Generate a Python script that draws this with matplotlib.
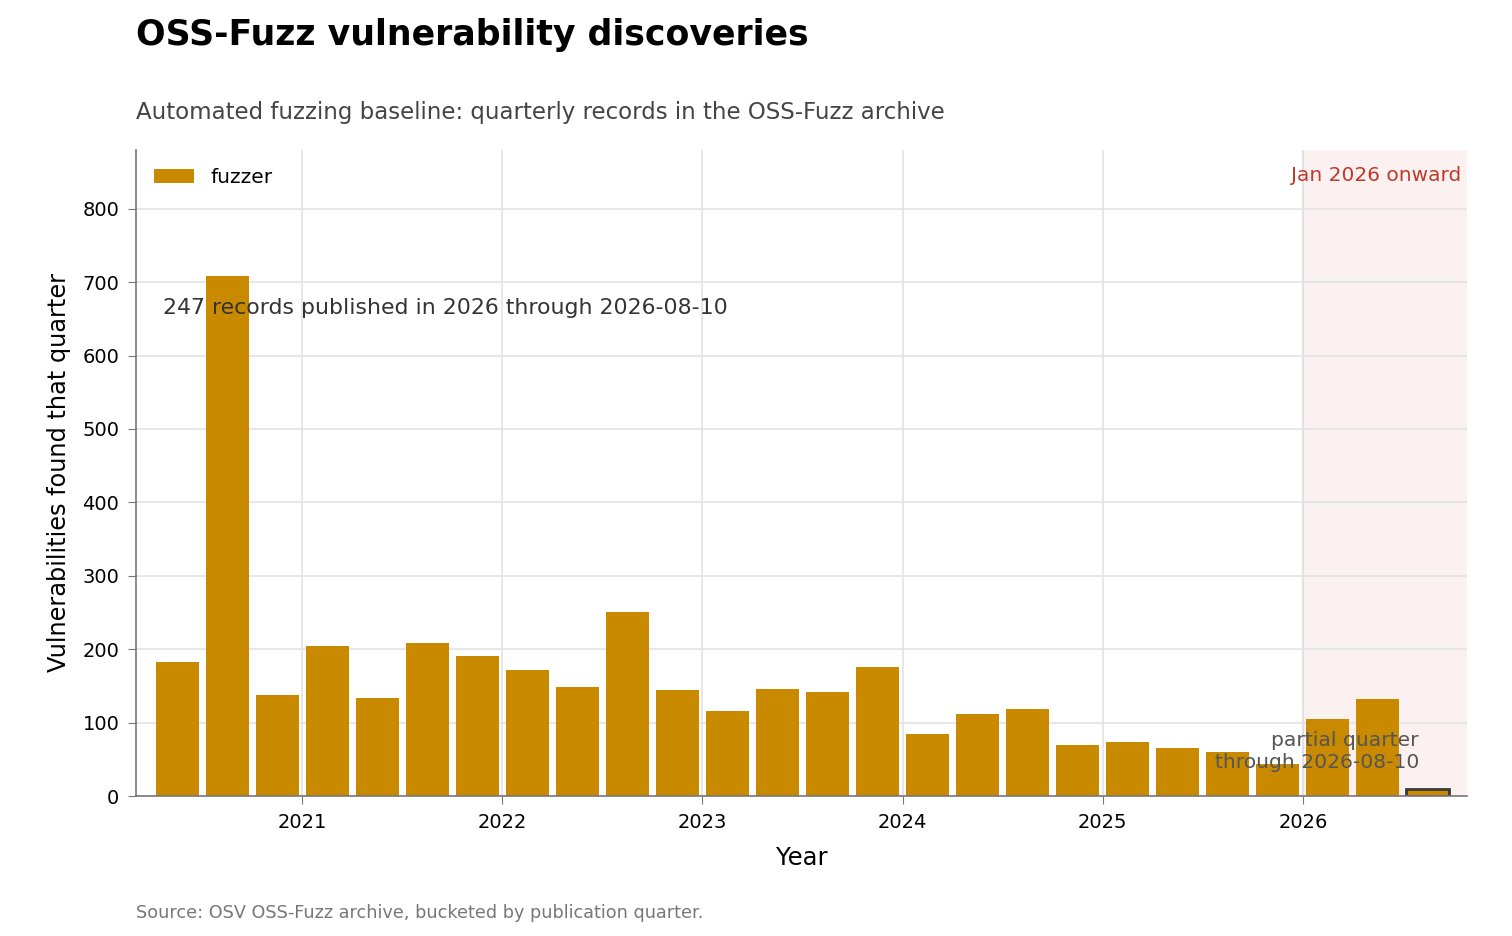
import numpy as np
import matplotlib.pyplot as plt

plt.rcParams["font.family"] = ["DejaVu Sans"]

quarters = ["2020Q2", "2020Q3", "2020Q4",
            "2021Q1", "2021Q2", "2021Q3", "2021Q4",
            "2022Q1", "2022Q2", "2022Q3", "2022Q4",
            "2023Q1", "2023Q2", "2023Q3", "2023Q4",
            "2024Q1", "2024Q2", "2024Q3", "2024Q4",
            "2025Q1", "2025Q2", "2025Q3", "2025Q4",
            "2026Q1", "2026Q2", "2026Q3"]
counts = [183, 709, 138, 204, 133, 208, 191, 172,
          149, 250, 145, 116, 146, 141, 176, 85,
          112, 119, 69, 74, 66, 60, 44,
          105, 132, 10]
years = [2021, 2022, 2023, 2024, 2025, 2026]

# quarter midpoints as decimal years
x = np.array([int(q[:4]) + (int(q[-1]) - 1) / 4 + 0.125 for q in quarters])
counts = np.array(counts)

bar_color = "#c98a00"

fig = plt.figure(figsize=(15.12, 9.36), dpi=100)
ax = fig.add_axes([136 / 1512, 1 - 796 / 936, (1467 - 136) / 1512, (796 - 150) / 936])

xmin, xmax = 2020.17, 2026.82
ax.axvspan(2026, xmax, color="#fbf1f0", zorder=0)
ax.axvline(2026, color="#e2dcdc", lw=1.5, zorder=0.5)

bars = ax.bar(x, counts, width=0.215, color=bar_color, label="fuzzer", zorder=2)
bars[-1].set_edgecolor("#3a3a3a")
bars[-1].set_linewidth(2)

ax.set_xlim(xmin, xmax)
ax.set_ylim(0, 880)
ax.set_xticks(years)
ax.set_xticklabels([str(y) for y in years])
ax.set_yticks(np.arange(0, 801, 100))
ax.grid(True, color="#e3e3e3", lw=1.2, zorder=0)
ax.set_axisbelow(True)

for s in ["top", "right"]:
    ax.spines[s].set_visible(False)
for s in ["left", "bottom"]:
    ax.spines[s].set_color("#777777")
    ax.spines[s].set_linewidth(1.2)
ax.tick_params(axis="both", labelsize=14, color="#777777", length=6, pad=6)

ax.set_xlabel("Year", fontsize=17.5, labelpad=10)
ax.set_ylabel("Vulnerabilities found that quarter", fontsize=17.3, labelpad=8)

ax.legend(loc="upper left", frameon=False, fontsize=14.5, handlelength=2.0,
          borderaxespad=0.5)

ax.text(2020.305, 665, "247 records published in 2026 through 2026-08-10",
        fontsize=15.8, color="#333333", va="center", ha="left", zorder=3)
ax.text(0.9955, 0.975, "Jan 2026 onward", transform=ax.transAxes,
        fontsize=14.5, color="#c0392b", ha="right", va="top")
ax.text(2026.58, 60, "partial quarter\nthrough 2026-08-10", fontsize=14.6,
        color="#555555", ha="right", va="center", zorder=3)

fig.text(136 / 1512, 1 - 35 / 936, "OSS-Fuzz vulnerability discoveries",
         fontsize=25, fontweight="bold", va="center", ha="left")
fig.text(136 / 1512, 1 - 112 / 936,
         "Automated fuzzing baseline: quarterly records in the OSS-Fuzz archive",
         fontsize=16.5, color="#444444", va="center", ha="left")
fig.text(136 / 1512, 1 - 913 / 936,
         "Source: OSV OSS-Fuzz archive, bucketed by publication quarter.",
         fontsize=12.7, color="#777777", va="center", ha="left")

fig.savefig("out.png", dpi=100)
